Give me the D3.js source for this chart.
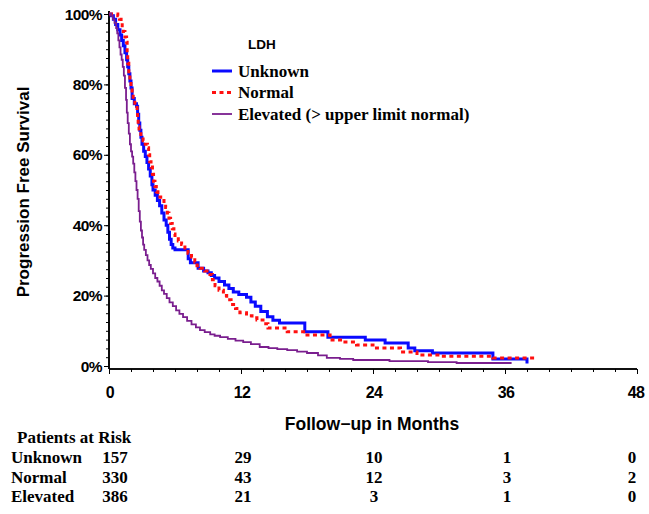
<!DOCTYPE html>
<html>
<head>
<meta charset="utf-8">
<script src="https://cdn.jsdelivr.net/npm/d3@7"></script>
<style>
  html, body { margin: 0; padding: 0; background: #fff; }
  svg { display: block; }
</style>
</head>
<body>
<svg id="chart" width="649" height="514"></svg>
<script>
// ---------------- data ----------------
const seriesNames = ["Unknown", "Normal", "Elevated (> upper limit normal)"];
const riskNames = ["Unknown", "Normal", "Elevated"];

const unknownTime = [0, 0.2, 0.4, 0.6, 0.8, 1.0, 1.15, 1.3, 1.45, 1.6, 1.7, 1.8, 1.9, 2.0, 2.1, 2.3, 2.5, 2.6, 2.7, 2.8, 2.9, 3.0, 3.15, 3.3, 3.45, 3.6, 3.75, 3.9, 4.0, 4.2, 4.4, 4.6, 4.8, 5.0, 5.2, 5.35, 5.5, 5.65, 5.8, 6.0, 7.2, 7.4, 8.1, 8.6, 9.0, 9.3, 9.6, 10.0, 10.5, 10.9, 11.3, 11.8, 12.5, 12.9, 13.3, 13.8, 14.4, 14.9, 15.5, 17.8, 19.9, 23.3, 25.1, 27.2, 27.8, 29.4, 34.9, 38.0];
const unknownSurv = [100, 99.5, 98.5, 97, 95.5, 94, 92.5, 91, 89, 87, 85, 83, 81, 79, 76, 74.5, 73.8, 71.5, 69, 67, 65, 63, 61, 59.5, 57.8, 56, 54, 51.5, 50, 48.5, 47, 45.5, 43.5, 41.5, 40, 38, 36, 34.5, 33.5, 33, 30.5, 29.3, 27.8, 27, 26.5, 25.7, 25, 24, 23, 22, 21, 20.3, 19.5, 18.2, 17, 15.5, 14, 13, 12.2, 9.7, 8.2, 7.4, 6.5, 5.1, 4.3, 3.7, 2.0, 0.7];
const unknownEnd = 38.0;

const normalTime = [0, 0.8, 0.95, 1.1, 1.2, 1.3, 1.45, 1.6, 1.65, 1.7, 1.8, 1.9, 2.0, 2.1, 2.2, 2.35, 2.55, 2.6, 2.65, 2.73, 2.9, 3.1, 3.3, 3.5, 3.6, 3.7, 3.82, 3.95, 4.05, 4.18, 4.3, 4.45, 4.7, 5.0, 5.15, 5.3, 5.45, 5.6, 5.75, 5.9, 6.0, 6.3, 6.6, 6.9, 7.18, 7.5, 7.8, 8.0, 8.27, 8.7, 9.18, 9.4, 9.64, 10.0, 10.4, 10.7, 11.1, 11.5, 11.9, 12.5, 13.0, 13.45, 14.0, 14.45, 16.2, 18.0, 20.1, 21.3, 22.5, 24.0, 26.5, 28.0, 30.1, 34.9];
const normalSurv = [100, 99.5, 98.5, 97.5, 96, 95, 93.5, 92, 89, 86, 83, 81, 79, 77.5, 75.5, 74, 72.5, 70, 68, 66, 65, 64, 63, 62, 60, 58, 56.5, 54.5, 52.5, 51, 49.5, 48, 47, 46, 45, 43.5, 42, 40.5, 39, 37.5, 36.6, 35.5, 34.5, 33, 32, 31, 29.5, 28.5, 27.8, 27, 26, 24.5, 22.8, 21.5, 20, 18.8, 17.5, 16.3, 15.1, 14.3, 13.7, 13.1, 12, 10.8, 9.7, 8.8, 7.4, 6.8, 6.0, 5.1, 4.0, 3.1, 2.8, 2.3];
const normalEnd = 38.9;

const elevatedTime = [0, 0.2, 0.35, 0.5, 0.65, 0.75, 0.85, 0.95, 1.05, 1.15, 1.25, 1.35, 1.45, 1.55, 1.62, 1.7, 1.8, 1.9, 2.0, 2.1, 2.2, 2.3, 2.4, 2.5, 2.6, 2.7, 2.8, 2.9, 3.0, 3.1, 3.2, 3.35, 3.5, 3.65, 3.8, 4.0, 4.2, 4.4, 4.6, 4.8, 5.0, 5.25, 5.5, 5.8, 6.1, 6.4, 6.73, 7.1, 7.5, 7.9, 8.27, 8.7, 9.2, 9.6, 10.1, 10.8, 11.5, 12.2, 12.9, 13.7, 14.5, 15.3, 16.2, 17.1, 18.0, 19.0, 19.8, 21.0, 22.2, 25.5, 29.0, 31.6];
const elevatedSurv = [100, 99.5, 98.5, 97.5, 96, 94.5, 92.5, 90.5, 88.5, 87, 85, 82.5, 79, 75.6, 72, 69, 66, 63, 61, 59.5, 57.5, 55, 52.5, 50, 47.5, 44, 41, 38.5, 36.5, 34.5, 33, 31.5, 30, 28.7, 27.6, 26.3, 25, 24, 22.8, 21.5, 20.5, 19.3, 18.1, 17, 15.8, 14.8, 13.9, 12.8, 11.8, 11, 10.2, 9.6, 9.0, 8.6, 8.2, 7.7, 7.2, 6.8, 6.2, 5.4, 5.1, 4.8, 4.5, 4.1, 3.7, 3.0, 2.3, 2.0, 1.7, 1.4, 1.1, 0.85];
const elevatedEnd = 36.6;

const xTicks = [0, 12, 24, 36, 48];
const yTicks = [0, 20, 40, 60, 80, 100];
const yTickLabels = ["0%", "20%", "40%", "60%", "80%", "100%"];

const riskTimes = [0, 12, 24, 36, 48];
const riskUnknown = [157, 29, 10, 1, 0];
const riskNormal = [330, 43, 12, 3, 2];
const riskElevated = [386, 21, 3, 1, 0];

// ---------------- layout ----------------
const svg = d3.select("#chart");
const x = d3.scaleLinear().domain([0, 48]).range([109, 637]);
const y = d3.scaleLinear().domain([0, 100]).range([366, 14]);
const axisY = 369;
const sans = "'Liberation Sans', Arial, Helvetica, sans-serif";
const serif = "'Liberation Serif', 'Times New Roman', Times, serif";

// axes
const xAxis = d3.axisBottom(x).tickValues(xTicks).tickSize(5).tickFormat("");
const xMinor = d3.axisBottom(x).tickValues(d3.range(0, 49, 2)).tickSize(3).tickFormat("");
const gx = svg.append("g").attr("transform", `translate(0,${axisY})`);
gx.call(xMinor);
gx.append("g").call(xAxis);
gx.selectAll("path.domain").attr("stroke", "#000").attr("stroke-width", 1.6).attr("d", `M${x(0)},0H${x(48)}`);
gx.selectAll("line").attr("stroke", "#000").attr("stroke-width", 1);

const yMinor = d3.axisLeft(y).tickValues(d3.range(0, 100.1, 2.5)).tickSize(3).tickFormat("");
const yAxis = d3.axisLeft(y).tickValues(yTicks).tickSize(5).tickFormat("");
const gy = svg.append("g").attr("transform", `translate(${x(0)},0)`);
gy.call(yMinor);
gy.append("g").call(yAxis);
gy.selectAll("path.domain").attr("stroke", "#000").attr("stroke-width", 1.6).attr("d", `M0,${y(100) - 3}V${axisY}`);
gy.selectAll("line").attr("stroke", "#000").attr("stroke-width", 1);

// tick labels
svg.append("g").selectAll("text").data(yTicks).join("text")
  .attr("x", 102).attr("y", d => y(d) + 5.5)
  .attr("text-anchor", "end")
  .attr("font-family", sans).attr("font-weight", "bold").attr("font-size", 15.5)
  .attr("letter-spacing", -0.6)
  .text((d, i) => yTickLabels[i]);

svg.append("g").selectAll("text").data(xTicks).join("text")
  .attr("x", d => x(d) + (d === 48 ? -1 : 1)).attr("y", 398)
  .attr("text-anchor", "middle")
  .attr("font-family", sans).attr("font-weight", "bold").attr("font-size", 16)
  .attr("letter-spacing", -0.6)
  .text(d => d);

// axis titles
svg.append("text")
  .attr("transform", "translate(28.5,192) rotate(-90)")
  .attr("text-anchor", "middle")
  .attr("font-family", sans).attr("font-weight", "bold").attr("font-size", 17)
  .text("Progression  Free  Survival");

svg.append("text")
  .attr("x", 372).attr("y", 430)
  .attr("text-anchor", "middle")
  .attr("font-family", sans).attr("font-weight", "bold").attr("font-size", 17.5)
  .text("Follow\u2212up  in  Months");

// curves
function kmPoints(times, surv, end) {
  const pts = times.map((t, i) => [t, surv[i]]);
  pts.push([end, surv[surv.length - 1]]);
  return pts;
}
const line = d3.line().x(d => x(d[0])).y(d => y(d[1])).curve(d3.curveStepAfter);

const series = [
  { pts: kmPoints(unknownTime, unknownSurv, unknownEnd), color: "#0a0aff", width: 3, dash: null },
  { pts: kmPoints(normalTime, normalSurv, normalEnd), color: "#ff1010", width: 3, dash: "4,3.5" },
  { pts: kmPoints(elevatedTime, elevatedSurv, elevatedEnd), color: "#7a1e8e", width: 1.8, dash: null }
];

svg.append("g").selectAll("path").data(series).join("path")
  .attr("d", d => line(d.pts))
  .attr("fill", "none")
  .attr("stroke", d => d.color)
  .attr("stroke-width", d => d.width)
  .attr("stroke-dasharray", d => d.dash)
  .attr("stroke-linejoin", "miter");

// legend
svg.append("text")
  .attr("x", 248).attr("y", 49)
  .attr("font-family", sans).attr("font-weight", "bold").attr("font-size", 13.5)
  .text("LDH");

const lg = svg.append("g").selectAll("g").data(series).join("g")
  .attr("transform", (d, i) => `translate(212,${71 + i * 21.5})`);
lg.append("line")
  .attr("x1", 0).attr("x2", 20).attr("y1", 0).attr("y2", 0)
  .attr("stroke", d => d.color)
  .attr("stroke-width", d => d.width)
  .attr("stroke-dasharray", d => d.dash);
lg.append("text")
  .attr("x", 26).attr("y", 5.5)
  .attr("font-family", serif).attr("font-weight", "bold").attr("font-size", 17)
  .text((d, i) => seriesNames[i]);

// risk table
svg.append("text")
  .attr("x", 17).attr("y", 443)
  .attr("font-family", serif).attr("font-weight", "bold").attr("font-size", 17)
  .text("Patients at Risk");

const riskRows = [riskUnknown, riskNormal, riskElevated];
const colOffset = [6, 2, 1, 2, -5];
riskRows.forEach((row, r) => {
  const yy = 463 + r * 19.5;
  svg.append("text")
    .attr("x", 11).attr("y", yy)
    .attr("font-family", serif).attr("font-weight", "bold").attr("font-size", 17)
    .text(riskNames[r]);
  svg.append("g").selectAll("text").data(row).join("text")
    .attr("x", (d, i) => x(riskTimes[i]) + colOffset[i])
    .attr("y", yy)
    .attr("text-anchor", "middle")
    .attr("font-family", serif).attr("font-weight", "bold").attr("font-size", 17)
    .text(d => d);
});
</script>
</body>
</html>
